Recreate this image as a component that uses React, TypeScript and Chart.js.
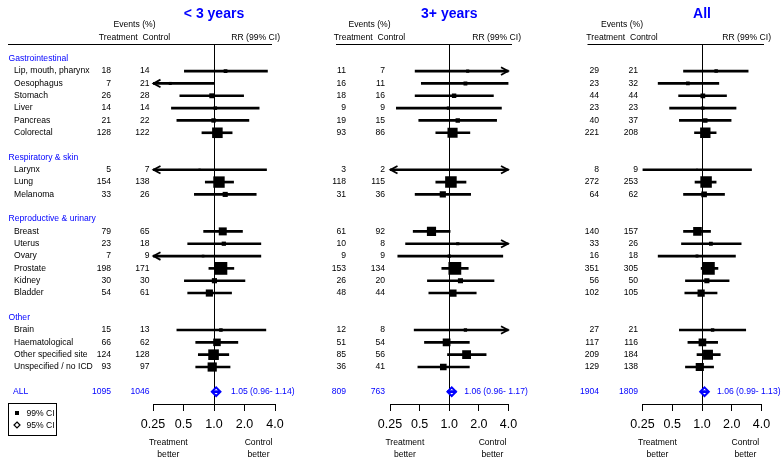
import React, { useEffect, useRef } from 'react';
import { Chart, registerables } from 'chart.js';

Chart.register(...registerables);

const FONT = '"Liberation Sans", Arial, sans-serif';
const BLUE = '#0000ff';

// ---------- DATA ----------
const GROUPS = ['Gastrointestinal', 'Respiratory & skin', 'Reproductive & urinary', 'Other'];
const SITES = [
  'Lip, mouth, pharynx', 'Oesophagus', 'Stomach', 'Liver', 'Pancreas', 'Colorectal',
  'Larynx', 'Lung', 'Melanoma',
  'Breast', 'Uterus', 'Ovary', 'Prostate', 'Kidney', 'Bladder',
  'Brain', 'Haematological', 'Other specified site', 'Unspecified / no ICD',
];
const SITE_GROUP = [0, 0, 0, 0, 0, 0, 1, 1, 1, 2, 2, 2, 2, 2, 2, 3, 3, 3, 3];
const ALL_LABEL = 'ALL';

const PANEL_TITLES = ['< 3 years', '3+ years', 'All'];
const TICK_VALUES = [0.25, 0.5, 1, 2, 4];
const TICK_LABELS = ['0.25', '0.5', '1.0', '2.0', '4.0'];

// < 3 years
const treatLt3 = [18, 7, 26, 14, 21, 128, 5, 154, 33, 79, 23, 7, 198, 30, 54, 15, 66, 124, 93];
const ctrlLt3 = [14, 21, 28, 14, 22, 122, 7, 138, 26, 65, 18, 9, 171, 30, 61, 13, 62, 128, 97];
const rrLt3 = [1.30, 0.37, 0.95, 1.03, 0.99, 1.08, 0.72, 1.12, 1.29, 1.22, 1.25, 0.78, 1.17, 1.01, 0.90, 1.17, 1.07, 0.99, 0.96];
const loLt3 = [0.51, 0.12, 0.46, 0.38, 0.43, 0.76, 0.12, 0.82, 0.64, 0.79, 0.55, 0.15, 0.89, 0.51, 0.55, 0.43, 0.66, 0.70, 0.66];
const hiLt3 = [3.37, 1.00, 1.96, 2.79, 2.21, 1.51, 3.30, 1.56, 2.61, 1.91, 2.90, 2.90, 1.57, 2.02, 1.49, 3.25, 1.72, 1.40, 1.44];
const allLt3 = { treat: 1095, ctrl: 1046, rr: 1.05, lo: 0.96, hi: 1.14 };

// 3+ years
const treat3p = [11, 16, 18, 9, 19, 93, 3, 118, 31, 61, 10, 9, 153, 26, 48, 12, 51, 85, 36];
const ctrl3p = [7, 11, 16, 9, 15, 86, 2, 115, 36, 92, 8, 9, 134, 20, 44, 8, 54, 56, 41];
const rr3p = [1.54, 1.46, 1.12, 0.98, 1.22, 1.08, 1.35, 1.04, 0.86, 0.66, 1.22, 1.00, 1.14, 1.30, 1.09, 1.46, 0.94, 1.50, 0.87];
const lo3p = [0.45, 0.52, 0.45, 0.29, 0.49, 0.73, 0.12, 0.73, 0.45, 0.43, 0.36, 0.30, 0.84, 0.60, 0.62, 0.44, 0.56, 0.96, 0.48];
const hi3p = [5.5, 4.0, 2.81, 3.39, 3.03, 1.62, 9.0, 1.48, 1.65, 1.02, 6.0, 3.50, 1.56, 2.85, 1.88, 6.0, 1.60, 2.37, 1.60];
const all3p = { treat: 809, ctrl: 763, rr: 1.06, lo: 0.96, hi: 1.17 };

// All
const treatAll = [29, 23, 44, 23, 40, 221, 8, 272, 64, 140, 33, 16, 351, 56, 102, 27, 117, 209, 129];
const ctrlAll = [21, 32, 44, 23, 37, 208, 9, 253, 62, 157, 26, 18, 305, 50, 105, 21, 116, 184, 138];
const rrAll = [1.39, 0.72, 1.02, 1.02, 1.08, 1.08, 0.89, 1.10, 1.05, 0.90, 1.23, 0.89, 1.16, 1.12, 0.98, 1.28, 1.01, 1.15, 0.95];
const loAll = [0.65, 0.36, 0.58, 0.47, 0.59, 0.84, 0.25, 0.85, 0.65, 0.65, 0.62, 0.36, 0.98, 0.68, 0.67, 0.59, 0.72, 0.89, 0.68];
const hiAll = [2.93, 1.48, 1.77, 2.21, 1.97, 1.39, 3.17, 1.39, 1.69, 1.22, 2.49, 2.18, 1.45, 1.88, 1.42, 2.77, 1.44, 1.53, 1.31];
const allAll = { treat: 1904, ctrl: 1809, rr: 1.06, lo: 0.99, hi: 1.13 };

const PANEL_DATA = [
  { treat: treatLt3, ctrl: ctrlLt3, rr: rrLt3, lo: loLt3, hi: hiLt3, all: allLt3 },
  { treat: treat3p, ctrl: ctrl3p, rr: rr3p, lo: lo3p, hi: hi3p, all: all3p },
  { treat: treatAll, ctrl: ctrlAll, rr: rrAll, lo: loAll, hi: hiAll, all: allAll },
];

// ---------- LAYOUT ----------
const H = 462;
const AREA_TOP = 44;
const AREA_BOTTOM = 404;
const LAYOUT = [
  { left: 0, width: 300, areaL: 153, areaR: 275, treatR: 111, ctrlR: 149.5, headC: 134.5, line: [8, 272], rrR: 280, sumOff: 17, labels: true },
  { left: 300, width: 240, areaL: 390, areaR: 508.5, treatR: 346, ctrlR: 385, headC: 369.5, line: [336, 512], rrR: 521, sumOff: 15, labels: false },
  { left: 540, width: 243, areaL: 642.5, areaR: 761.5, treatR: 599, ctrlR: 638, headC: 622, line: [587.5, 764], rrR: 771, sumOff: 15, labels: false },
];

// row structure
const GROUP_ROW: number[] = [];
const SITE_ROW: number[] = [];
let rowCounter = 0;
GROUPS.forEach((g, gi) => {
  GROUP_ROW.push(rowCounter++);
  SITES.forEach((s, si) => {
    if (SITE_GROUP[si] === gi) SITE_ROW[si] = rowCounter++;
  });
  rowCounter++;
});
const ALL_ROW = rowCounter;

function fmt(v: number) {
  return v.toFixed(2);
}

function buildConfig(pi: number) {
  const d = PANEL_DATA[pi];
  const L = LAYOUT[pi];
  const weights = d.treat.map((a, i) => (a * d.ctrl[i]) / (a + d.ctrl[i]));
  const wmax = Math.max(...weights);
  const radii = weights.map((w) => Math.max(1.4, 12.8 * Math.sqrt(w / wmax)) / Math.SQRT2);

  const ciData = SITES.map((s, i) => ({ x: [d.lo[i], d.hi[i]], y: SITE_ROW[i] }));
  ciData.push({ x: [d.all.lo, d.all.hi], y: ALL_ROW });
  const ciColors = SITES.map(() => '#000');
  ciColors.push(BLUE);

  const lx = (v: number) => v - L.left;

  const forest = {
    id: 'forest' + pi,
    beforeDatasetsDraw(chart: any) {
      const { ctx, chartArea, scales } = chart;
      const px = Math.round(scales.x.getPixelForValue(1)) + 0.5;
      ctx.save();
      ctx.strokeStyle = '#000';
      ctx.lineWidth = 1;
      ctx.beginPath();
      ctx.moveTo(px, chartArea.top);
      ctx.lineTo(px, chartArea.bottom);
      ctx.stroke();
      ctx.restore();
    },
    afterDatasetsDraw(chart: any) {
      const { ctx, scales } = chart;
      const xs = scales.x;
      const ys = scales.y;
      ctx.save();
      ctx.strokeStyle = '#000';
      ctx.lineWidth = 1.8;
      ctx.lineJoin = 'miter';
      SITES.forEach((s, i) => {
        const y = ys.getPixelForValue(SITE_ROW[i]);
        if (d.lo[i] < xs.min) {
          const t = xs.getPixelForValue(xs.min) + 0.5;
          ctx.beginPath();
          ctx.moveTo(t + 7, y - 3.8);
          ctx.lineTo(t, y);
          ctx.lineTo(t + 7, y + 3.8);
          ctx.stroke();
        }
        if (d.hi[i] > xs.max) {
          const t = xs.getPixelForValue(xs.max) - 0.5;
          ctx.beginPath();
          ctx.moveTo(t - 7, y - 3.8);
          ctx.lineTo(t, y);
          ctx.lineTo(t - 7, y + 3.8);
          ctx.stroke();
        }
      });
      ctx.restore();
    },
    afterDraw(chart: any) {
      const { ctx, scales } = chart;
      const xs = scales.x;
      const ys = scales.y;
      const one = xs.getPixelForValue(1);
      ctx.save();
      // title
      ctx.fillStyle = BLUE;
      ctx.font = `bold 14px ${FONT}`;
      ctx.textAlign = 'center';
      ctx.textBaseline = 'middle';
      ctx.fillText(PANEL_TITLES[pi], one, 14);
      // headers
      ctx.fillStyle = '#000';
      ctx.font = `8.6px ${FONT}`;
      ctx.fillText('Events (%)', lx(L.headC), 24.5);
      ctx.fillText('Treatment  Control', lx(L.headC), 37.5);
      ctx.textAlign = 'right';
      ctx.fillText('RR (99% CI)', lx(L.rrR), 37.5);
      // header line
      ctx.strokeStyle = '#000';
      ctx.lineWidth = 1;
      ctx.beginPath();
      ctx.moveTo(lx(L.line[0]), 44.5);
      ctx.lineTo(lx(L.line[1]), 44.5);
      ctx.stroke();

      // rows
      if (L.labels) {
        ctx.textAlign = 'left';
        GROUPS.forEach((g, gi) => {
          ctx.fillStyle = BLUE;
          ctx.fillText(g, 8.5, ys.getPixelForValue(GROUP_ROW[gi]));
        });
        ctx.fillStyle = '#000';
        SITES.forEach((s, i) => {
          ctx.fillText(s, 14, ys.getPixelForValue(SITE_ROW[i]));
        });
        ctx.fillStyle = BLUE;
        ctx.fillText(ALL_LABEL, 13, ys.getPixelForValue(ALL_ROW));
      }
      ctx.textAlign = 'right';
      ctx.fillStyle = '#000';
      SITES.forEach((s, i) => {
        const y = ys.getPixelForValue(SITE_ROW[i]);
        ctx.fillText(String(d.treat[i]), lx(L.treatR), y);
        ctx.fillText(String(d.ctrl[i]), lx(L.ctrlR), y);
      });
      const ya = ys.getPixelForValue(ALL_ROW);
      ctx.fillStyle = BLUE;
      ctx.fillText(String(d.all.treat), lx(L.treatR), ya);
      ctx.fillText(String(d.all.ctrl), lx(L.ctrlR), ya);
      ctx.textAlign = 'left';
      ctx.fillText(`${fmt(d.all.rr)} (${fmt(d.all.lo)}- ${fmt(d.all.hi)})`, one + L.sumOff, ya);

      // bottom labels
      ctx.fillStyle = '#000';
      ctx.textAlign = 'center';
      const tb = xs.getPixelForValue(0.354);
      const cb = xs.getPixelForValue(2.75);
      ctx.fillText('Treatment', tb, 443);
      ctx.fillText('better', tb, 455);
      ctx.fillText('Control', cb, 443);
      ctx.fillText('better', cb, 455);

      // legend box
      if (L.labels) {
        ctx.strokeStyle = '#000';
        ctx.lineWidth = 1;
        ctx.strokeRect(8.5, 403.5, 48, 32);
        ctx.fillStyle = '#000';
        ctx.fillRect(15, 411, 4, 4);
        ctx.beginPath();
        ctx.moveTo(17, 422);
        ctx.lineTo(20, 425);
        ctx.lineTo(17, 428);
        ctx.lineTo(14, 425);
        ctx.closePath();
        ctx.lineWidth = 1.2;
        ctx.stroke();
        ctx.textAlign = 'left';
        ctx.fillText('99% CI', 26.5, 413.5);
        ctx.fillText('95% CI', 26.5, 425.5);
      }
      ctx.restore();
    },
  };

  return {
    type: 'scatter',
    data: {
      datasets: [
        {
          type: 'bar',
          indexAxis: 'y',
          data: ciData,
          backgroundColor: ciColors,
          borderWidth: 0,
          barThickness: 2,
          grouped: false,
          clip: 0,
          order: 1,
        },
        {
          type: 'scatter',
          data: SITES.map((s, i) => ({ x: d.rr[i], y: SITE_ROW[i] })),
          pointStyle: 'rect',
          pointRadius: radii,
          backgroundColor: '#000',
          borderWidth: 0,
          order: 2,
        },
        {
          type: 'scatter',
          data: [{ x: d.all.rr, y: ALL_ROW }],
          pointStyle: 'rectRot',
          pointRadius: 4.3,
          backgroundColor: '#fff',
          borderColor: BLUE,
          borderWidth: 2,
          order: 3,
        },
      ],
    },
    options: {
      responsive: false,
      animation: false,
      devicePixelRatio: 1,
      events: [],
      layout: {
        padding: { left: L.areaL - L.left, right: L.left + L.width - L.areaR, top: AREA_TOP, bottom: 0 },
      },
      plugins: { legend: { display: false }, tooltip: { enabled: false } },
      scales: {
        x: {
          type: 'logarithmic',
          position: 'bottom',
          offset: false,
          min: TICK_VALUES[0],
          max: TICK_VALUES[TICK_VALUES.length - 1],
          afterBuildTicks: (s: any) => {
            s.ticks = TICK_VALUES.map((v) => ({ value: v }));
          },
          afterFit: (s: any) => {
            s.height = H - AREA_BOTTOM;
          },
          ticks: {
            autoSkip: false,
            maxRotation: 0,
            minRotation: 0,
            padding: 6,
            color: '#000',
            font: { family: FONT, size: 12.5 },
            callback: (v: any, i: number) => TICK_LABELS[i],
          },
          grid: { display: true, offset: false, drawOnChartArea: false, drawTicks: true, tickLength: 7, color: '#000', lineWidth: 1 },
          border: { display: true, color: '#000', width: 1 },
        },
        y: {
          type: 'linear',
          display: false,
          offset: false,
          reverse: true,
          min: -1.2,
          max: 28,
          grid: { offset: false },
        },
      },
    },
    plugins: [forest],
  };
}

function Panel({ index }: { index: number }) {
  const ref = useRef<HTMLCanvasElement | null>(null);
  useEffect(() => {
    if (!ref.current) return;
    const chart = new Chart(ref.current, buildConfig(index) as any);
    return () => chart.destroy();
  }, [index]);
  const L = LAYOUT[index];
  return (
    <canvas
      ref={ref}
      width={L.width}
      height={H}
      style={{ position: 'absolute', left: L.left, top: 0, width: L.width, height: H }}
    />
  );
}

export default function App() {
  return (
    <div style={{ position: 'absolute', left: 0, top: 0, width: 783, height: H, background: '#fff' }}>
      {PANEL_TITLES.map((t, i) => (
        <Panel key={t} index={i} />
      ))}
    </div>
  );
}
